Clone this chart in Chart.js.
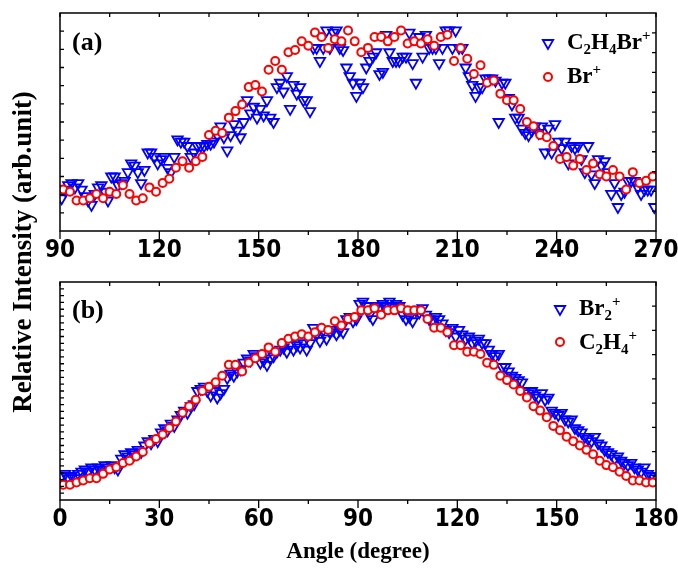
<!DOCTYPE html>
<html>
<head>
<meta charset="utf-8">
<script src="https://cdn.jsdelivr.net/npm/chart.js@4.4.1/dist/chart.umd.min.js"></script>
<style>
  html, body { margin: 0; padding: 0; background: #ffffff; }
  #wrap { position: relative; width: 678px; height: 570px; }
  #wrap canvas { position: absolute; left: 0; top: 0; }
</style>
</head>
<body>
<div id="wrap">
  <canvas id="chart-a" width="678" height="570"></canvas>
  <canvas id="chart-b" width="678" height="570"></canvas>
</div>
<script>
// x tick labels of both panels
const ticksA = [90, 120, 150, 180, 210, 240, 270];
const ticksB = [0, 30, 60, 90, 120, 150, 180];

// panel (a): C2H4Br+ in 1 degree bins from 90.5, Br+ in 2 degree bins from 91
const c2h4brStart = 90.5, c2h4brStep = 1;
const c2h4brValues = [
  15, 19, 21, 22, 20, 22, 19, 16, 14, 12,
  17, 20, 21, 18, 14, 25, 25, 21, 22, 23,
  27, 31, 30, 27, 22, 28, 36, 36, 34, 31,
  33, 34, 29, 27, 34, 42, 41, 41, 39, 34,
  36, 39, 39, 39, 40, 40, 41, 44, 48, 43,
  37, 44, 49, 46, 43, 50, 60, 54, 57, 52,
  56, 53, 60, 52, 50, 66, 68, 64, 71, 56,
  67, 63, 66, 60, 60, 55, 84, 84, 78, 84,
  92, 84, 91, 92, 84, 83, 75, 71, 68, 62,
  68, 66, 75, 78, 80, 82, 72, 73, 90, 82,
  78, 78, 78, 80, 80, 91, 77, 68, 89, 80,
  90, 84, 84, 84, 77, 84, 92, 92, 84, 92,
  84, 84, 75, 71, 67, 62, 66, 66, 70, 70,
  70, 69, 50, 68, 68, 61, 58, 52, 52, 47,
  45, 44, 46, 48, 45, 48, 36, 47, 36, 49,
  41, 38, 41, 31, 39, 38, 39, 33, 27, 39,
  26, 22, 33, 30, 32, 27, 17, 22, 11, 17,
  18, 23, 23, 23, 20, 17, 19, 19, 19, 11,
];
const brStart = 91, brStep = 2;
const brValues = [
  19, 18, 14, 14, 15, 17, 15, 18, 17, 21,
  17, 14, 15, 20, 18, 22, 24, 29, 32, 29,
  32, 34, 44, 46, 45, 52, 55, 58, 66, 67,
  64, 74, 78, 74, 82, 83, 87, 85, 91, 89,
  84, 88, 87, 92, 87, 82, 84, 89, 89, 87,
  89, 92, 86, 87, 86, 88, 85, 89, 90, 78,
  84, 79, 72, 76, 68, 69, 63, 60, 60, 56,
  50, 48, 44, 43, 39, 33, 34, 30, 33, 28,
  31, 26, 25, 28, 25, 19, 27, 22, 23, 25,
];

// panel (b): Br2+ in 1 degree bins from 0.5, C2H4+ in 2 degree bins from 1
const br2Start = 0.5, br2Step = 1;
const br2Values = [
  11, 12, 10, 11, 10, 12, 13, 14, 13, 15,
  14, 15, 14, 16, 15, 16, 15, 14, 19, 21,
  20, 22, 21, 23, 22, 25, 27, 26, 28, 27,
  31, 33, 32, 35, 34, 37, 39, 41, 40, 43,
  44, 50, 51, 52, 50, 48, 50, 47, 49, 51,
  56, 58, 57, 59, 60, 63, 65, 64, 67, 66,
  63, 64, 62, 65, 66, 68, 69, 70, 68, 71,
  69, 71, 70, 72, 69, 72, 79, 76, 73, 78,
  74, 77, 78, 76, 78, 77, 83, 84, 82, 83,
  90, 91, 89, 85, 83, 89, 88, 90, 89, 91,
  89, 90, 89, 85, 83, 84, 82, 87, 86, 88,
  85, 83, 82, 84, 83, 81, 78, 77, 79, 75,
  78, 76, 74, 75, 72, 73, 74, 72, 72, 69,
  67, 66, 67, 61, 61, 59, 57, 56, 55, 54,
  50, 49, 50, 48, 47, 49, 46, 47, 41, 40,
  39, 40, 37, 36, 37, 33, 32, 31, 29, 28,
  27, 29, 26, 25, 23, 22, 21, 19, 20, 18,
  17, 16, 17, 15, 14, 13, 15, 12, 11, 10,
];
const c2h4Start = 1, c2h4Step = 2;
const c2h4Values = [
  7, 7, 8, 9, 10, 10, 12, 14, 15, 17,
  18, 20, 22, 26, 28, 30, 33, 36, 40, 43,
  46, 50, 52, 54, 57, 62, 62, 59, 63, 65,
  67, 70, 68, 72, 74, 75, 76, 75, 77, 79,
  78, 82, 80, 83, 84, 87, 87, 88, 85, 87,
  87, 88, 87, 87, 87, 83, 79, 79, 77, 71,
  71, 68, 68, 67, 63, 62, 57, 55, 53, 50,
  47, 43, 41, 38, 34, 32, 29, 27, 25, 23,
  21, 18, 16, 15, 13, 11, 9, 9, 8, 8,
];

const BLUE = '#0000ff';
const RED = '#ff0000';
const serif = '"Liberation Serif", "Times New Roman", serif';
const narrow = '"Liberation Sans Narrow", "Arial Narrow", "DejaVu Sans Condensed", sans-serif';

const toPoints = (start, step, values) => values.map((v, i) => ({ x: start + i * step, y: v }));

const triangleSet = (label, start, step, values) => ({
  label,
  data: toPoints(start, step, values),
  pointStyle: 'triangle',
  rotation: 180,
  pointRadius: 6,
  pointBorderWidth: 1.8,
  borderColor: BLUE,
  backgroundColor: 'rgba(0,0,0,0)',
  order: 2,
});

const circleSet = (label, start, step, values) => ({
  label,
  data: toPoints(start, step, values),
  pointStyle: 'circle',
  pointRadius: 4,
  pointBorderWidth: 2,
  borderColor: RED,
  backgroundColor: '#ffffff',
  order: 1,
});

// text with sub/superscripts: parts like ['C', '_2', 'H', '_4', '^+']
const drawRich = (ctx, parts, x, y, size) => {
  let cx = x;
  parts.forEach((p) => {
    let txt = p, dy = 0, fs = size;
    if (p[0] === '_') { txt = p.slice(1); fs = size * 0.65; dy = size * 0.22; }
    if (p[0] === '^') { txt = p.slice(1); fs = size * 0.65; dy = -size * 0.4; }
    ctx.font = 'bold ' + fs + 'px ' + serif;
    ctx.fillText(txt, cx, y + dy);
    cx += ctx.measureText(txt).width;
  });
};

const drawMarker = (ctx, style, x, y) => {
  ctx.save();
  if (style === 'triangle') {
    ctx.lineWidth = 1.8;
    ctx.strokeStyle = BLUE;
    ctx.fillStyle = 'rgba(0,0,0,0)';
    Chart.helpers.drawPoint(ctx, { pointStyle: 'triangle', rotation: 180, radius: 6, borderWidth: 1.8 }, x, y);
  } else {
    ctx.lineWidth = 2;
    ctx.strokeStyle = RED;
    ctx.fillStyle = '#ffffff';
    Chart.helpers.drawPoint(ctx, { pointStyle: 'circle', radius: 4, borderWidth: 2 }, x, y);
  }
  ctx.restore();
};

const framePlugin = {
  id: 'frame',
  afterDraw(chart, args, opts) {
    const { ctx, chartArea: a, scales } = chart;
    const x = scales.x;
    ctx.save();
    ctx.strokeStyle = '#000';
    ctx.lineWidth = 1.5;
    ctx.strokeRect(a.left, a.top, a.right - a.left, a.bottom - a.top);

    // x ticks: major outward at the bottom, minor halfway, short ones on top
    ctx.lineWidth = 1.3;
    ctx.beginPath();
    opts.ticks.forEach((t, i) => {
      const px = x.getPixelForValue(t);
      ctx.moveTo(px, a.bottom); ctx.lineTo(px, a.bottom + 8);
      ctx.moveTo(px, a.top); ctx.lineTo(px, a.top + 4);
      if (i < opts.ticks.length - 1) {
        const pm = x.getPixelForValue((t + opts.ticks[i + 1]) / 2);
        ctx.moveTo(pm, a.bottom); ctx.lineTo(pm, a.bottom + 4);
        ctx.moveTo(pm, a.top); ctx.lineTo(pm, a.top + 4);
      }
    });
    // y ticks, inward on both sides
    const h = a.bottom - a.top;
    for (let k = 1; k < opts.leftTicks; k++) {
      const py = a.bottom - (h * k) / opts.leftTicks;
      ctx.moveTo(a.left, py); ctx.lineTo(a.left + 4, py);
    }
    for (let k = 1; k < opts.rightTicks; k++) {
      const py = a.bottom - (h * k) / opts.rightTicks;
      ctx.moveTo(a.right, py); ctx.lineTo(a.right - 4, py);
    }
    ctx.stroke();

    // tick labels
    ctx.fillStyle = '#000';
    ctx.font = 'bold 24px ' + narrow;
    ctx.textAlign = 'center';
    ctx.textBaseline = 'top';
    opts.ticks.forEach((t) => ctx.fillText(String(t), x.getPixelForValue(t), a.bottom + 8));

    // panel label
    ctx.textAlign = 'left';
    ctx.textBaseline = 'alphabetic';
    ctx.font = 'bold 26px ' + serif;
    ctx.fillText(opts.panel, a.left + 12, a.top + opts.panelDy);

    // legend
    opts.legend.forEach((item) => {
      drawMarker(ctx, item.style, item.mx, item.my);
      drawRich(ctx, item.parts, item.tx, item.ty, 23);
    });

    // axis titles (only on the lower panel)
    if (opts.titles) {
      ctx.font = 'bold 23px ' + serif;
      ctx.textAlign = 'center';
      ctx.fillText('Angle (degree)', 358, 558);
      ctx.save();
      ctx.translate(31, 252);
      ctx.rotate(-Math.PI / 2);
      ctx.font = 'bold 27px ' + serif;
      ctx.fillText('Relative Intensity (arb.unit)', 0, 0);
      ctx.restore();
    }
    ctx.restore();
  },
};

const makePanel = (id, datasets, xMin, xMax, top, bottom, frame) => new Chart(document.getElementById(id), {
  type: 'scatter',
  data: { datasets },
  options: {
    responsive: false,
    animation: false,
    events: [],
    layout: { padding: { left: 60, right: 22, top, bottom: 570 - bottom } },
    plugins: {
      legend: { display: false },
      tooltip: { enabled: false },
      frame,
    },
    scales: {
      x: { type: 'linear', min: xMin, max: xMax, display: false },
      y: { type: 'linear', min: 0, max: 100, display: false },
    },
  },
  plugins: [framePlugin],
});

makePanel('chart-a', [
  triangleSet('C2H4Br+', c2h4brStart, c2h4brStep, c2h4brValues),
  circleSet('Br+', brStart, brStep, brValues),
], 90, 270, 13, 231, {
  ticks: ticksA, leftTicks: 12, rightTicks: 11, panel: '(a)', panelDy: 37,
  legend: [
    { style: 'triangle', mx: 548, my: 43, tx: 567, ty: 49, parts: ['C', '_2', 'H', '_4', 'Br', '^+'] },
    { style: 'circle', mx: 548, my: 77, tx: 567, ty: 83, parts: ['Br', '^+'] },
  ],
});

makePanel('chart-b', [
  triangleSet('Br2+', br2Start, br2Step, br2Values),
  circleSet('C2H4+', c2h4Start, c2h4Step, c2h4Values),
], 0, 180, 282, 500, {
  ticks: ticksB, leftTicks: 32, rightTicks: 9, panel: '(b)', panelDy: 36,
  legend: [
    { style: 'triangle', mx: 560, my: 309, tx: 579, ty: 315, parts: ['Br', '_2', '^+'] },
    { style: 'circle', mx: 560, my: 342, tx: 579, ty: 349, parts: ['C', '_2', 'H', '_4', '^+'] },
  ],
  titles: true,
});
</script>
</body>
</html>
